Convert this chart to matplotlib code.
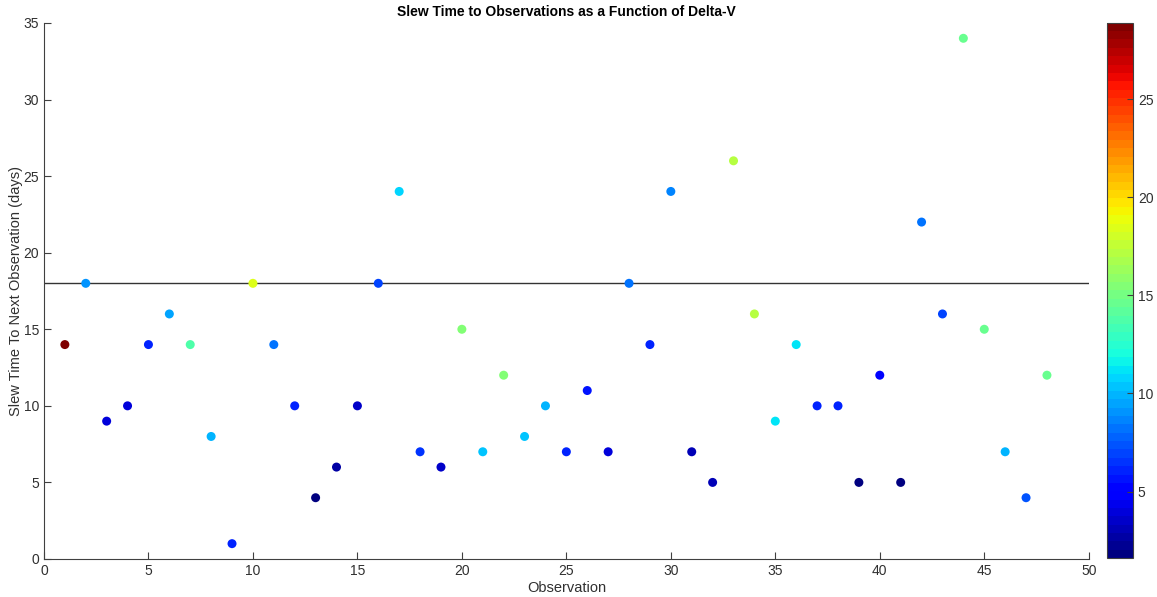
import matplotlib
matplotlib.use("Agg")
import matplotlib.pyplot as plt
import numpy as np

plt.rcParams['font.family'] = ['Liberation Sans', 'DejaVu Sans']

# Observation number, slew time to next observation (days), delta-V
observation = list(range(1, 49))
slew_time = [14, 18, 9, 10, 14, 16, 14, 8, 1, 18,
             14, 10, 4, 6, 10, 18, 24, 7, 6, 15,
             7, 12, 8, 10, 7, 11, 7, 18, 14, 24,
             7, 5, 26, 16, 9, 14, 10, 10, 5, 12,
             5, 22, 16, 34, 15, 7, 4, 12]
delta_v = [28.9, 9.2, 3.8, 4.0, 6.2, 9.5, 13.6, 10.1, 6.2, 18.5,
           8.1, 5.9, 1.6, 2.7, 3.7, 7.0, 10.9, 6.3, 3.5, 15.3,
           10.5, 15.5, 10.2, 10.1, 6.0, 5.5, 4.0, 8.0, 6.2, 8.7,
           3.0, 3.0, 17.2, 17.3, 11.0, 11.3, 5.9, 6.2, 2.0, 5.2,
           2.0, 8.4, 7.0, 14.8, 14.6, 9.8, 7.3, 14.4]
threshold = 18

fig = plt.figure(figsize=(11.57, 5.97), dpi=100)
ax = fig.add_axes([0.038, 0.0637, 0.903, 0.8978])
cax = fig.add_axes([0.9568, 0.065, 0.0225, 0.897])

grey = '#404040'
cmap = plt.get_cmap('jet', 64)

sc = ax.scatter(observation, slew_time, c=delta_v, cmap=cmap, s=42,
                edgecolors='none', zorder=3)
ax.axhline(threshold, color='#333333', linewidth=1.0, zorder=2)

ax.set_xlim(0, 50)
ax.set_ylim(0, 35)
ax.set_xticks(range(0, 51, 5))
ax.set_yticks(range(0, 36, 5))
for side in ['top', 'right']:
    ax.spines[side].set_visible(False)
for side in ['left', 'bottom']:
    ax.spines[side].set_color(grey)
ax.tick_params(direction='in', colors=grey, labelsize=10, length=5,
               labelcolor='#303030')

ax.set_title('Slew Time to Observations as a Function of Delta-V',
             fontsize=10, fontweight='bold', pad=5)
ax.set_xlabel('Observation', fontsize=10.5, color='#303030', labelpad=2)
ax.set_ylabel('Slew Time To Next Observation (days)', fontsize=10.5,
              color='#303030', labelpad=0)

cb = fig.colorbar(sc, cax=cax)
cb.set_ticks([5, 10, 15, 20, 25])
cb.outline.set_edgecolor(grey)
cb.ax.tick_params(direction='in', colors=grey, labelsize=10, length=4,
                  labelcolor='#303030')

plt.savefig('out.png', dpi=100)
